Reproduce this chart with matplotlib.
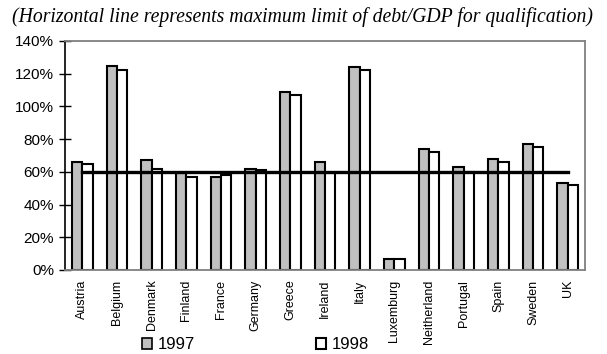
import matplotlib
matplotlib.use("Agg")
import matplotlib.pyplot as plt
import numpy as np
from matplotlib.patches import Patch
from matplotlib.ticker import PercentFormatter

countries = ["Austria", "Belgium", "Denmark", "Finland", "France", "Germany",
             "Greece", "Ireland", "Italy", "Luxemburg", "Neitherland",
             "Portugal", "Spain", "Sweden", "UK"]
debt_1997 = [66, 125, 67, 59, 57, 62, 109, 66, 124, 7, 74, 63, 68, 77, 53]
debt_1998 = [65, 122, 62, 57, 58, 61, 107, 59, 122, 7, 72, 60, 66, 75, 52]
limit = 60

plt.rcParams['font.family'] = ['Liberation Sans', 'DejaVu Sans']

fig = plt.figure(figsize=(6.07, 3.54), dpi=100)
ax = fig.add_axes([0.1071, 0.2373, 0.8567, 0.6469])

x = np.arange(len(countries))
w = 0.3
ax.bar(x - w/2, debt_1997, w, color='#c0c0c0', edgecolor='black', linewidth=1.5)
ax.bar(x + w/2, debt_1998, w, color='white', edgecolor='black', linewidth=1.5)
ax.plot([x[0], x[-1]], [limit, limit], color='black', linewidth=2.4)

ax.set_xlim(-0.5, len(countries) - 0.5)
ax.set_ylim(0, 140)
ax.set_yticks(range(0, 141, 20))
ax.yaxis.set_major_formatter(PercentFormatter(decimals=0))
ax.set_xticks(x)
ax.set_xticklabels(countries, rotation=90, fontsize=9)
ax.tick_params(axis='x', length=0, pad=7)
ax.tick_params(axis='y', direction='inout', length=8, width=1, labelsize=11, pad=4)

for side in ['top', 'right', 'bottom']:
    ax.spines[side].set_color('#808080')
    ax.spines[side].set_linewidth(1.3)
ax.spines['left'].set_color('black')
ax.spines['left'].set_linewidth(1.2)

fig.text(0.019, 0.937, "(Horizontal line represents maximum limit of debt/GDP for qualification)",
         family=['Liberation Serif'], style='italic', fontsize=14.2, ha='left', va='baseline')

handles = [Patch(facecolor='#c0c0c0', edgecolor='black', linewidth=1.2),
           Patch(facecolor='white', edgecolor='black', linewidth=1.5)]
fig.legend(handles, ['1997', '1998'], ncol=2, frameon=False, fontsize=12,
           loc='lower left', bbox_to_anchor=(0.21, -0.038),
           handlelength=0.6, handleheight=0.6, handletextpad=0.3,
           columnspacing=7.3)

fig.savefig('out.png', dpi=100)
